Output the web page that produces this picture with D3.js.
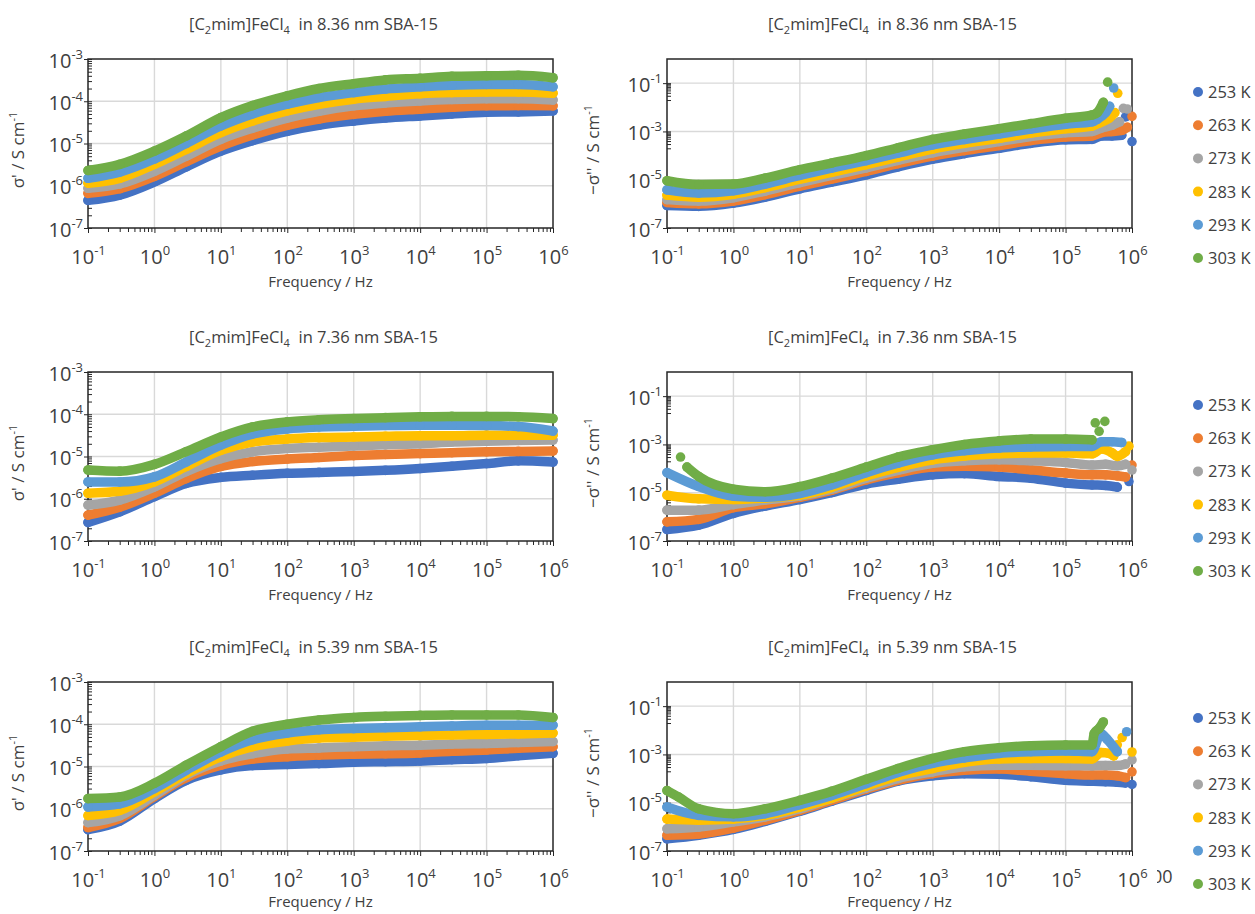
<!DOCTYPE html>
<html>
<head>
<meta charset="utf-8">
<script src="https://cdnjs.cloudflare.com/ajax/libs/d3/7.8.5/d3.min.js"></script>
<style>
  body { margin: 0; background: #fff; }
  text { font-family: "Open Sans", sans-serif; fill: #404040; }
</style>
</head>
<body>
<svg id="chart" width="1255" height="914"></svg>
<script>

// temperatures / colours (Excel palette)
var temps = ["253 K", "263 K", "273 K", "283 K", "293 K", "303 K"];
var colors = ["#4472c4", "#ed7d31", "#a5a5a5", "#ffc000", "#5b9bd5", "#70ad47"];

// frequencies the values were read at
var freqRe = [0.1, 0.3, 1, 3, 10, 30, 100, 300, 1e3, 3e3, 1e4, 3e4, 1e5, 3e5, 1e6];
var freqIm = [0.1, 0.3, 1, 3, 10, 30, 100, 300, 1e3, 3e3, 1e4, 3e4, 1e5, 2.5e5];

/* ---- 8.36 nm ---- */
var re836 = [
  [4.5e-7, 6.0e-7, 1.23e-6, 2.8e-6, 6.6e-6, 1.17e-5, 1.95e-5, 2.7e-5, 3.4e-5, 4.0e-5, 4.5e-5, 5.0e-5, 5.5e-5, 5.6e-5, 5.9e-5],
  [6.6e-7, 8.5e-7, 1.66e-6, 3.7e-6, 8.7e-6, 1.6e-5, 2.7e-5, 3.8e-5, 4.9e-5, 5.8e-5, 6.5e-5, 7.2e-5, 7.8e-5, 7.9e-5, 7.8e-5],
  [8.7e-7, 1.1e-6, 2.2e-6, 5.0e-6, 1.26e-5, 2.3e-5, 4.0e-5, 5.8e-5, 7.8e-5, 9.1e-5, 1.02e-4, 1.1e-4, 1.15e-4, 1.15e-4, 1.07e-4],
  [1.15e-6, 1.5e-6, 3.2e-6, 7.2e-6, 1.8e-5, 3.4e-5, 5.9e-5, 8.5e-5, 1.12e-4, 1.3e-4, 1.5e-4, 1.6e-4, 1.65e-4, 1.65e-4, 1.55e-4],
  [1.5e-6, 2.1e-6, 4.3e-6, 1.0e-5, 2.6e-5, 5.0e-5, 8.5e-5, 1.23e-4, 1.6e-4, 1.95e-4, 2.2e-4, 2.4e-4, 2.5e-4, 2.5e-4, 2.2e-4],
  [2.3e-6, 3.2e-6, 6.6e-6, 1.5e-5, 4.1e-5, 7.9e-5, 1.35e-4, 2.0e-4, 2.6e-4, 3.2e-4, 3.5e-4, 3.9e-4, 4.0e-4, 4.1e-4, 3.6e-4]
];
var im836 = [
  [8.5e-7, 7.9e-7, 1.07e-6, 1.9e-6, 4.2e-6, 7.9e-6, 1.6e-5, 3.4e-5, 7.1e-5, 1.2e-4, 2.0e-4, 3.2e-4, 4.5e-4, 4.7e-4],
  [1.15e-6, 1.0e-6, 1.3e-6, 2.4e-6, 5.4e-6, 1.05e-5, 2.2e-5, 4.6e-5, 9.5e-5, 1.6e-4, 2.6e-4, 4.2e-4, 5.9e-4, 6.5e-4],
  [1.5e-6, 1.3e-6, 1.8e-6, 3.4e-6, 7.6e-6, 1.5e-5, 3.1e-5, 6.3e-5, 1.3e-4, 2.2e-4, 3.8e-4, 6.2e-4, 8.9e-4, 1.0e-3],
  [2.3e-6, 1.9e-6, 2.5e-6, 4.7e-6, 1.05e-5, 2.0e-5, 4.2e-5, 8.7e-5, 1.86e-4, 3.2e-4, 5.2e-4, 8.5e-4, 1.3e-3, 1.66e-3],
  [3.8e-6, 2.8e-6, 3.5e-6, 6.6e-6, 1.5e-5, 3.0e-5, 6.2e-5, 1.26e-4, 2.75e-4, 4.6e-4, 7.8e-4, 1.26e-3, 2.0e-3, 2.5e-3],
  [9.1e-6, 6.3e-6, 6.6e-6, 1.17e-5, 2.6e-5, 4.9e-5, 1.0e-4, 2.1e-4, 4.7e-4, 7.8e-4, 1.3e-3, 2.1e-3, 3.5e-3, 4.8e-3]
];
var im836Extra = [
  [[3.5e5, 6.5e-4], [5e5, 6.5e-4], [7e5, 7e-4]],
  [[3.5e5, 9e-4], [5e5, 1.0e-3], [7e5, 1.1e-3], [8.5e5, 1.5e-3]],
  [[3.5e5, 1.4e-3], [5e5, 1.8e-3], [6.5e5, 2.5e-3]],
  [[3.2e5, 2.2e-3], [4.5e5, 3.5e-3], [5.5e5, 6e-3]],
  [[3e5, 3.2e-3], [4e5, 6e-3], [4.6e5, 1.1e-2]],
  [[3e5, 6e-3], [3.7e5, 1.6e-2]]
];
var im836Dots = [
  [[8e5, 4e-3], [1e6, 3.8e-4]],
  [[1e6, 4.2e-3]],
  [[7.4e5, 9e-3], [8.5e5, 8.5e-3]],
  [[6.1e5, 0.038]],
  [[5.3e5, 0.063]],
  [[4.3e5, 0.11]]
];

/* ---- 7.36 nm ---- */
var re736 = [
  [2.75e-7, 4.9e-7, 1.12e-6, 2.3e-6, 3.2e-6, 3.6e-6, 4.0e-6, 4.2e-6, 4.4e-6, 4.7e-6, 5.2e-6, 5.9e-6, 6.8e-6, 7.9e-6, 7.4e-6],
  [4.1e-7, 6.3e-7, 1.35e-6, 3.0e-6, 5.8e-6, 7.6e-6, 8.7e-6, 9.5e-6, 1.05e-5, 1.12e-5, 1.17e-5, 1.23e-5, 1.29e-5, 1.32e-5, 1.35e-5],
  [7.1e-7, 9.3e-7, 1.9e-6, 4.4e-6, 8.9e-6, 1.3e-5, 1.55e-5, 1.66e-5, 1.78e-5, 1.9e-5, 2.0e-5, 2.2e-5, 2.3e-5, 2.4e-5, 2.45e-5],
  [1.35e-6, 1.5e-6, 2.5e-6, 5.8e-6, 1.4e-5, 2.2e-5, 2.6e-5, 2.8e-5, 2.9e-5, 3.0e-5, 3.1e-5, 3.1e-5, 3.2e-5, 3.2e-5, 3.2e-5],
  [2.5e-6, 2.5e-6, 3.3e-6, 7.4e-6, 1.86e-5, 3.4e-5, 4.5e-5, 5.0e-5, 5.2e-5, 5.4e-5, 5.5e-5, 5.5e-5, 5.4e-5, 5.1e-5, 4.0e-5],
  [4.8e-6, 4.5e-6, 6.5e-6, 1.3e-5, 2.9e-5, 5.0e-5, 6.6e-5, 7.4e-5, 7.9e-5, 8.3e-5, 8.7e-5, 8.9e-5, 8.9e-5, 8.7e-5, 7.9e-5]
];
var im736 = [
  [3.0e-7, 4.5e-7, 1.4e-6, 2.8e-6, 5.2e-6, 1.0e-5, 2.3e-5, 3.6e-5, 5.5e-5, 6.2e-5, 4.7e-5, 4.0e-5, 2.5e-5, 2.1e-5],
  [6.2e-7, 7.9e-7, 2.4e-6, 3.5e-6, 6.5e-6, 1.26e-5, 3.4e-5, 6.6e-5, 1.15e-4, 1.26e-4, 1.15e-4, 8.9e-5, 6.5e-5, 5.5e-5],
  [1.9e-6, 1.9e-6, 3.2e-6, 5.0e-6, 7.2e-6, 1.4e-5, 4.0e-5, 8.5e-5, 1.66e-4, 2.1e-4, 2.3e-4, 2.1e-4, 1.8e-4, 1.4e-4],
  [7.9e-6, 5.6e-6, 5.2e-6, 6.0e-6, 7.9e-6, 1.66e-5, 4.9e-5, 1.12e-4, 2.3e-4, 3.3e-4, 4.1e-4, 4.4e-4, 4.4e-4, 4.1e-4],
  [6.8e-5, 1.8e-5, 7.2e-6, 6.5e-6, 9.3e-6, 2.1e-5, 6.8e-5, 1.66e-4, 3.7e-4, 5.5e-4, 7.1e-4, 7.9e-4, 8.3e-4, 8.3e-4],
  [null, 4.7e-5, 1.4e-5, 1.1e-5, 1.8e-5, 4.0e-5, 1.15e-4, 3.0e-4, 6.0e-4, 1.0e-3, 1.4e-3, 1.66e-3, 1.66e-3, 1.55e-3]
];
var im736Extra = [
  [[4e5, 2.0e-5], [6e5, 1.7e-5]],
  [[4e5, 5.5e-5], [6e5, 5e-5], [8e5, 4.5e-5]],
  [[4e5, 1.5e-4], [6e5, 1.3e-4], [8e5, 1.5e-4]],
  [[3.5e5, 6.5e-4], [5e5, 4.5e-4], [6e5, 3.2e-4], [8e5, 5e-4]],
  [[3.5e5, 1.3e-3], [5e5, 1.3e-3], [7e5, 1.2e-3]],
  [[0.2, 1.15e-4]]
];
var im736Dots = [
  [[9e5, 2.9e-5]],
  [[1e6, 1.4e-4]],
  [[1e6, 8.7e-5]],
  [[9e5, 8.5e-4]],
  [],
  [[0.16, 3e-4], [2.8e5, 7.8e-3], [3.2e5, 3.5e-3], [3.9e5, 9e-3]]
];

/* ---- 5.39 nm ---- */
var re539 = [
  [3.2e-7, 5.1e-7, 1.74e-6, 4.7e-6, 8.3e-6, 1.05e-5, 1.12e-5, 1.17e-5, 1.26e-5, 1.3e-5, 1.35e-5, 1.45e-5, 1.55e-5, 1.8e-5, 2.05e-5],
  [3.6e-7, 5.9e-7, 1.95e-6, 5.4e-6, 1.07e-5, 1.5e-5, 1.7e-5, 1.86e-5, 1.95e-5, 2.0e-5, 2.1e-5, 2.3e-5, 2.45e-5, 2.7e-5, 2.95e-5],
  [4.7e-7, 6.8e-7, 2.1e-6, 6.2e-6, 1.35e-5, 2.0e-5, 2.6e-5, 2.75e-5, 2.95e-5, 3.1e-5, 3.2e-5, 3.4e-5, 3.5e-5, 3.7e-5, 3.9e-5],
  [6.9e-7, 9.1e-7, 2.5e-6, 6.8e-6, 1.7e-5, 2.95e-5, 4.0e-5, 4.7e-5, 4.9e-5, 5.2e-5, 5.4e-5, 5.6e-5, 5.75e-5, 5.9e-5, 6.2e-5],
  [1.1e-6, 1.3e-6, 3.0e-6, 8.1e-6, 2.2e-5, 4.3e-5, 6.2e-5, 7.4e-5, 7.9e-5, 8.3e-5, 8.7e-5, 9.1e-5, 9.5e-5, 9.5e-5, 9.5e-5],
  [1.74e-6, 1.9e-6, 4.0e-6, 1.07e-5, 2.95e-5, 6.8e-5, 1.0e-4, 1.26e-4, 1.45e-4, 1.55e-4, 1.62e-4, 1.66e-4, 1.66e-4, 1.66e-4, 1.45e-4]
];
var im539 = [
  [3.2e-7, 4.5e-7, 7.8e-7, 1.7e-6, 4.4e-6, 1.15e-5, 3.2e-5, 7.8e-5, 1.3e-4, 1.6e-4, 1.5e-4, 1.2e-4, 8.5e-5, 7.8e-5],
  [4.5e-7, 5.1e-7, 8.9e-7, 1.9e-6, 4.8e-6, 1.26e-5, 3.6e-5, 8.5e-5, 1.6e-4, 2.2e-4, 2.5e-4, 2.0e-4, 1.6e-4, 1.4e-4],
  [8.3e-7, 9.8e-7, 1.6e-6, 2.6e-6, 5.6e-6, 1.5e-5, 4.1e-5, 1.0e-4, 1.9e-4, 3.1e-4, 3.6e-4, 3.6e-4, 3.4e-4, 3.4e-4],
  [2.1e-6, 1.9e-6, 2.1e-6, 3.0e-6, 6.6e-6, 1.55e-5, 4.9e-5, 1.3e-4, 2.6e-4, 4.7e-4, 6.5e-4, 6.8e-4, 6.8e-4, 6.5e-4],
  [6.6e-6, 3.0e-6, 2.6e-6, 3.5e-6, 8.3e-6, 2.0e-5, 6.2e-5, 1.8e-4, 4.3e-4, 7.2e-4, 1.1e-3, 1.3e-3, 1.4e-3, 1.3e-3],
  [3.2e-5, 5.6e-6, 3.5e-6, 5.6e-6, 1.26e-5, 2.95e-5, 9.3e-5, 2.6e-4, 6.8e-4, 1.3e-3, 1.9e-3, 2.3e-3, 2.45e-3, 2.45e-3]
];
var im539Extra = [
  [[4e5, 7.4e-5], [6e5, 7e-5], [8e5, 6.6e-5]],
  [[4e5, 1.4e-4], [6e5, 1.3e-4], [8e5, 1.1e-4]],
  [[4e5, 3.5e-4], [6e5, 3.5e-4], [8e5, 4e-4]],
  [[3.4e5, 1.2e-3], [4.5e5, 1.1e-3], [5.3e5, 8.7e-4]],
  [[3.4e5, 7.4e-3], [4.2e5, 4.3e-3], [6e5, 1.3e-3]],
  [[0.15, 1.7e-5], [2.7e5, 7.5e-3], [3.2e5, 1.2e-2], [3.7e5, 2.2e-2]]
];
var im539Dots = [
  [[1e6, 5.7e-5]],
  [[1e6, 1.9e-4]],
  [[1e6, 5.9e-4]],
  [[6e5, 2.5e-3], [7.1e5, 5e-3], [1e6, 1.26e-3]],
  [[8.3e5, 8.7e-3]],
  []
];

var panels = [
  { row: 0, col: 0, pore: "8.36", freq: freqRe, main: re836 },
  { row: 0, col: 1, pore: "8.36", freq: freqIm, main: im836, extra: im836Extra, dots: im836Dots },
  { row: 1, col: 0, pore: "7.36", freq: freqRe, main: re736 },
  { row: 1, col: 1, pore: "7.36", freq: freqIm, main: im736, extra: im736Extra, dots: im736Dots },
  { row: 2, col: 0, pore: "5.39", freq: freqRe, main: re539 },
  { row: 2, col: 1, pore: "5.39", freq: freqIm, main: im539, extra: im539Extra, dots: im539Dots }
];

var svg = d3.select("#chart");
var rowTop = [59, 372, 682];
var colLeft = [88, 667];
var pw = 465, ph = 169;

function powText(sel, exp, big, small) {
  sel.append("tspan").attr("font-size", big).text("10");
  sel.append("tspan").attr("font-size", small).attr("dy", -9).text(exp);
}

function drawPanel(p) {
  var left = colLeft[p.col], top = rowTop[p.row], bottom = top + ph;
  var isRe = p.col == 0;

  var x = d3.scaleLog().domain([0.1, 1e6]).range([left, left + pw]);
  var y = d3.scaleLog().domain(isRe ? [1e-7, 1e-3] : [1e-7, 1]).range([bottom, top]);

  var xMajor = [0.1, 1, 10, 100, 1e3, 1e4, 1e5, 1e6];
  var yMajor = isRe ? [1e-7, 1e-6, 1e-5, 1e-4, 1e-3] : [1e-7, 1e-5, 1e-3, 1e-1];
  var xMinor = [], yMinor = [];
  for (var e = -1; e < 6; e++) for (var m = 2; m < 10; m++) xMinor.push(m * Math.pow(10, e));
  var yDec = isRe ? [-7, -6, -5, -4] : [-6, -4, -2];
  yDec.forEach(function (e) { for (var m = 2; m < 10; m++) yMinor.push(m * Math.pow(10, e)); });

  var g = svg.append("g");

  // gridlines
  g.append("g").selectAll("line").data(xMajor.slice(1, -1)).join("line")
    .attr("x1", function (d) { return x(d); }).attr("x2", function (d) { return x(d); })
    .attr("y1", top).attr("y2", bottom)
    .attr("stroke", "#d9d9d9").attr("stroke-width", 1.4);
  g.append("g").selectAll("line").data(yMajor.filter(function (d) { return y(d) > top + 1 && y(d) < bottom - 1; })).join("line")
    .attr("x1", left).attr("x2", left + pw)
    .attr("y1", function (d) { return y(d); }).attr("y2", function (d) { return y(d); })
    .attr("stroke", "#d9d9d9").attr("stroke-width", 1.4);

  // ticks
  var axisColor = "#262626";
  function clean(a) { a.select(".domain").remove(); a.attr("color", axisColor); }
  g.append("g").attr("transform", "translate(0," + bottom + ")")
    .call(d3.axisBottom(x).tickValues(xMinor).tickSize(4).tickFormat("")).call(clean);
  g.append("g").attr("transform", "translate(" + left + ",0)")
    .call(d3.axisRight(y).tickValues(yMinor).tickSize(4).tickFormat("")).call(clean);

  var xAx = g.append("g").attr("transform", "translate(0," + bottom + ")")
    .call(d3.axisBottom(x).tickValues(xMajor).tickSize(5).tickFormat("")).call(clean);
  xAx.selectAll(".tick text").remove();
  xAx.selectAll(".tick").append("text")
    .attr("y", 36).attr("text-anchor", "middle")
    .each(function (d) { powText(d3.select(this), String(Math.round(Math.log10(d))), 20, 13); });

  var yAx = g.append("g").attr("transform", "translate(" + left + ",0)")
    .call(d3.axisLeft(y).tickValues(yMajor).tickSize(4).tickFormat("")).call(clean);
  yAx.selectAll(".tick line").attr("x2", 4).attr("x1", -4);
  yAx.selectAll(".tick text").remove();
  yAx.selectAll(".tick").append("text")
    .attr("x", -5).attr("y", 8).attr("text-anchor", "end")
    .each(function (d) { powText(d3.select(this), String(Math.round(Math.log10(d))), 20, 13); });

  // plot border
  g.append("rect").attr("x", left).attr("y", top).attr("width", pw).attr("height", ph)
    .attr("fill", "none").attr("stroke", axisColor).attr("stroke-width", 1.5);

  // series
  var line = d3.line()
    .x(function (d) { return x(d[0]); })
    .y(function (d) { return y(d[1]); })
    .curve(d3.curveMonotoneX);

  p.main.forEach(function (vals, i) {
    var pts = [];
    vals.forEach(function (v, k) { if (v != null) pts.push([p.freq[k], v]); });
    if (p.extra) pts = pts.concat(p.extra[i]);
    pts.sort(function (a, b) { return a[0] - b[0]; });
    var sg = g.append("g");
    sg.append("path").attr("d", line(pts))
      .attr("fill", "none").attr("stroke", colors[i]).attr("stroke-width", 9.5)
      .attr("stroke-linecap", "round").attr("stroke-linejoin", "round");
    var dots = p.dots ? pts.concat(p.dots[i]) : pts;
    sg.selectAll("circle").data(dots).join("circle")
      .attr("cx", function (d) { return x(d[0]); })
      .attr("cy", function (d) { return y(d[1]); })
      .attr("r", 4.8).attr("fill", colors[i]);
  });

  // title
  var cx = left + pw / 2;
  var t = svg.append("text").attr("x", cx - 7).attr("y", top - 29)
    .attr("text-anchor", "middle").attr("font-size", 16.5);
  t.append("tspan").text("[C");
  t.append("tspan").attr("font-size", 11).attr("dy", 4).text("2");
  t.append("tspan").attr("dy", -4).text("mim]FeCl");
  t.append("tspan").attr("font-size", 11).attr("dy", 4).text("4");
  t.append("tspan").attr("dy", -4).text("\u00a0 in " + p.pore + " nm SBA-15");

  // axis titles (the last row is pulled up a little so it stays inside the page)
  var titleY = Math.min(bottom + 59, 907);
  svg.append("text").attr("x", cx).attr("y", titleY)
    .attr("text-anchor", "middle").attr("font-size", 15).text("Frequency / Hz");

  var yl = svg.append("text")
    .attr("transform", "translate(" + (isRe ? 24 : 599) + "," + (top + 91) + ") rotate(-90)")
    .attr("text-anchor", "middle").attr("font-size", 17);
  yl.append("tspan").text(isRe ? "\u03c3' / S cm" : "\u2212\u03c3'' / S cm");
  yl.append("tspan").attr("font-size", 11).attr("dy", -7).text("-1");
}

panels.forEach(drawPanel);

// legends, one per row
rowTop.forEach(function (top, r) {
  var lg = svg.append("g");
  temps.forEach(function (tk, i) {
    var yy = 92 + r * 313 + i * 33.2;
    lg.append("circle").attr("cx", 1198).attr("cy", yy).attr("r", 5).attr("fill", colors[i]);
    lg.append("text").attr("x", 1208).attr("y", yy + 6).attr("font-size", 16.5).text(tk);
  });
});

// leftover label fragment at the lower right
svg.append("clipPath").attr("id", "frag").append("rect")
  .attr("x", 1157).attr("y", 860).attr("width", 30).attr("height", 30);
svg.append("text").attr("x", 1152).attr("y", 883).attr("font-size", 18)
  .attr("clip-path", "url(#frag)").text("00");

</script>
</body>
</html>
